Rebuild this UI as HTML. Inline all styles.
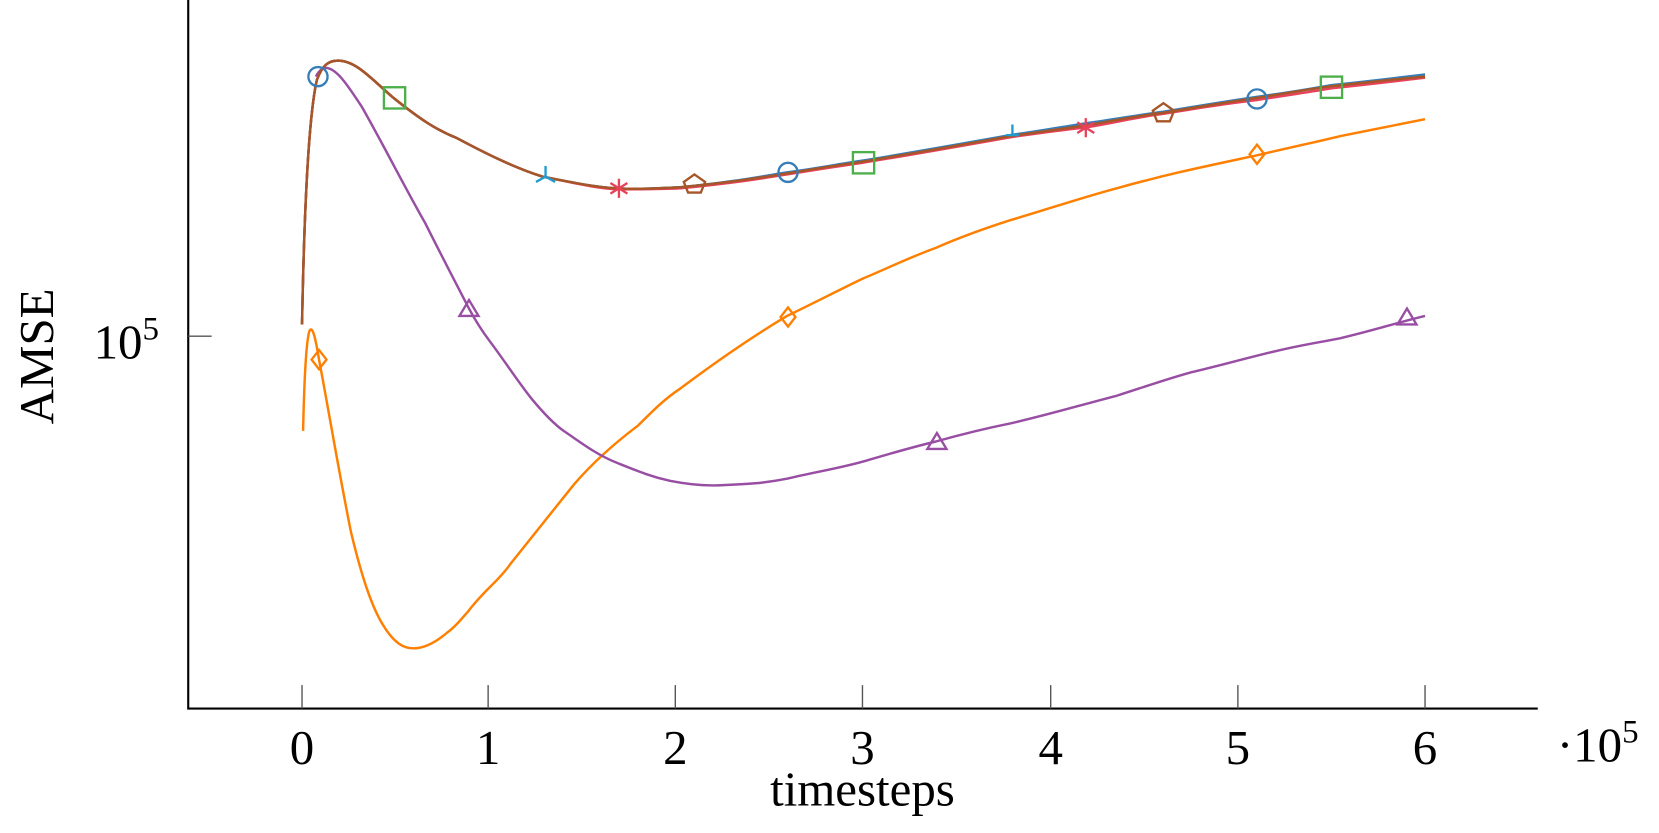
<!DOCTYPE html>
<html><head><meta charset="utf-8"><style>
html,body{margin:0;padding:0;background:#fff;}
svg{display:block;}
text{font-family:"Liberation Serif",serif;fill:#000;}
</style></head><body>
<svg width="1659" height="833" viewBox="0 0 1560 783" preserveAspectRatio="none" xmlns="http://www.w3.org/2000/svg">
<!-- axes -->
<path d="M177,0 V666 H1446" fill="none" stroke="#000" stroke-width="2"/>
<g stroke="#555" stroke-width="1.3">
<path d="M284,666v-22M459,666v-22M635,666v-22M811,666v-22M988,666v-22M1164,666v-22M1340,666v-22"/>
<path d="M177,316h22"/>
</g>
<g font-size="46" text-anchor="middle">
<text x="284" y="718">0</text><text x="459" y="718">1</text><text x="635" y="718">2</text>
<text x="811" y="718">3</text><text x="988" y="718">4</text><text x="1164" y="718">5</text><text x="1340" y="718">6</text>
<text x="811" y="757">timesteps</text>
</g>
<text x="88" y="337" font-size="46">10<tspan font-size="31" dy="-18">5</tspan></text>
<text x="1464" y="716" font-size="46">·10<tspan font-size="31" dy="-18">5</tspan></text>
<text transform="translate(50,335) rotate(-90)" font-size="46" text-anchor="middle">AMSE</text>

<g fill="none" stroke-width="2.3" stroke-linejoin="round">
<!-- orange -->
<path stroke="#ff7f00" d="M285,405 C286,360 288,320 291,311 C294,305 297,320 300,338 C308,380 318,440 330,500 C342,550 355,590 375,605 C385,612 400,612 420,595 C430,588 435,580 440,575 C455,555 470,545 480,530 C500,505 520,480 540,455 C560,432 580,415 600,400 C615,385 625,375 640,365 C680,335 710,315 740,297 C765,285 790,272 811,262 C835,252 855,242 880,233 C905,222 925,215 950,207 C990,195 1020,185 1050,177 C1100,163 1140,155 1182,146 C1220,137 1240,133 1260,128 C1290,122 1315,117 1340,112"/>
<!-- purple -->
<path stroke="#984ea3" d="M297,72 C300,66 304,63 308,64 C318,66 328,82 340,100 C360,135 380,175 400,210 C415,240 428,265 441,290 C448,303 454,312 460,320 C475,340 488,360 500,375 C510,387 520,398 530,405 C545,415 560,427 580,435 C600,443 612,448 630,452 C650,456 665,457 680,456 C705,455 720,454 740,450 C765,444 790,440 811,434 C835,427 855,421 880,415 C905,408 925,403 950,398 C985,390 1015,381 1050,372 C1075,364 1095,357 1120,350 C1150,343 1170,337 1200,330 C1225,324 1240,322 1260,318 C1290,311 1315,303 1340,297"/>
<!-- main group -->
<path stroke="#4daf4a" d="M284,305 C286,200 290,110 298,75 C303,62 308,57 318,57 C335,57 350,75 370,92 C395,112 410,122 430,130 C460,146 485,158 510,166 C540,172 560,176 580,177 C600,178 620,177 640,176 C690,171 715,167 740,163 C770,158 790,155 811,152 C860,144 905,136 950,128 C985,123 1000,121 1020,118 C1050,113 1070,109 1094,106 C1130,100 1155,96 1182,92 C1220,86 1235,83 1252,81 C1290,77 1315,73 1340,71"/>
<path stroke="#377eb8" d="M284,305 C286,200 290,110 298,75 C303,62 308,57 318,57 C335,57 350,75 370,92 C395,112 410,122 430,130 C460,146 485,158 510,166 C540,172 560,176 580,177 C600,178 620,177 640,176 C690,171 715,166 740,162 C770,158 790,154 811,151 C860,143 905,135 950,127 C985,122 1000,119 1020,116 C1050,112 1070,108 1094,105 C1130,99 1155,95 1182,91 C1220,86 1235,83 1252,80 C1290,76 1315,73 1340,70"/>
<path stroke="#e8415a" d="M284,305 C286,200 290,110 298,75 C303,62 308,57 318,57 C335,57 350,75 370,92 C395,112 410,122 430,130 C460,146 485,158 510,166 C540,172 560,177 580,178 C600,178 620,178 640,177 C690,172 715,168 740,164 C770,159 790,156 811,153 C860,145 905,137 950,129 C985,124 1000,122 1020,120 C1050,115 1070,110 1094,107 C1130,101 1155,97 1182,94 C1220,88 1235,86 1252,83 C1290,79 1315,76 1340,73"/>
<path stroke="#a65628" d="M284,305 C286,200 290,110 298,75 C303,62 308,57 318,57 C335,57 350,75 370,92 C395,112 410,122 430,130 C460,146 485,158 510,166 C540,172 560,176 580,177 C600,178 620,177 640,176 C690,171 715,167 740,163 C770,158 790,155 811,152 C860,144 905,136 950,128 C985,123 1000,121 1020,118 C1050,113 1070,109 1094,106 C1130,100 1155,96 1182,92 C1220,86 1235,83 1252,81 C1290,77 1315,74 1340,72"/>
</g>
<!-- markers -->
<g fill="none" stroke-width="2.2">
<g stroke="#377eb8"><circle cx="299" cy="72" r="9"/><circle cx="741" cy="162" r="9"/><circle cx="1182" cy="93" r="9"/></g>
<g stroke="#4daf4a"><rect x="361" y="82" width="20" height="20"/><rect x="802" y="143" width="20" height="20"/><rect x="1242" y="72" width="20" height="20"/></g>
<g stroke="#1f9bd0"><path d="M513,166v-10M513,166l-9,5M513,166l9,5"/><path d="M952,127v-10M952,127v0M946,127h12"/></g>
<g stroke="#e8415a"><path d="M582,168v18M574,172l16,10M574,182l16,-10"/><path d="M1021,111v18M1013,115l16,10M1013,125l16,-10"/></g>
<g stroke="#a65628"><path d="M653,164l10,7-4,10h-12l-4,-10z"/><path d="M1094,97l10,7-4,10h-12l-4,-10z"/></g>
<g stroke="#984ea3"><path d="M441,282l9,15h-18z"/><path d="M881,407l9,15h-18z"/><path d="M1323,290l9,15h-18z"/></g>
<g stroke="#ff7f00"><path d="M300,329l7,9-7,9-7,-9z"/><path d="M741,289l7,9-7,9-7,-9z"/><path d="M1182,136l7,9-7,9-7,-9z"/></g>
</g>
</svg>
</body></html>
